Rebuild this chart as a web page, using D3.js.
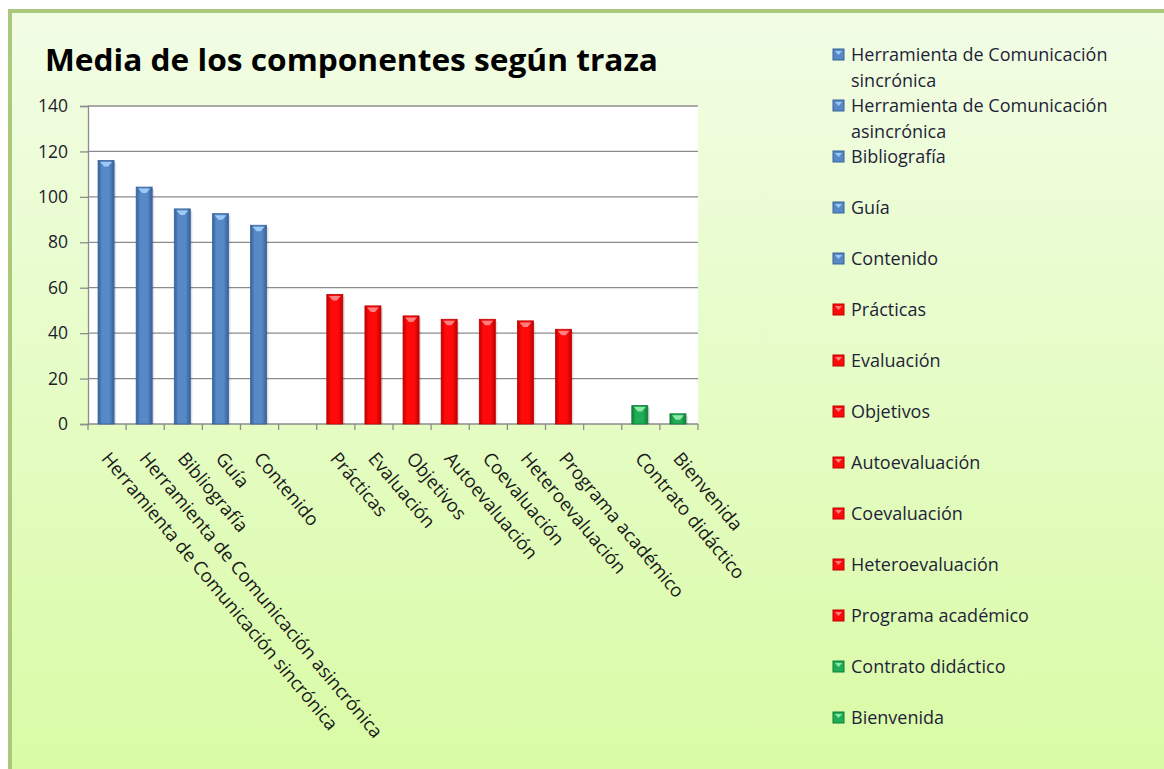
<!DOCTYPE html>
<html>
<head>
<meta charset="utf-8">
<script src="https://cdn.jsdelivr.net/npm/d3@7"></script>
<style>
  body { margin: 0; background: #fff; }
  svg { display: block; font-family: "Open Sans", sans-serif; }
</style>
</head>
<body>
<div id="chart"></div>
<script>
/* Media de los componentes según traza - barras por componente */

// categorias del eje x ("" = hueco entre grupos)
const categories = [
    "Herramienta de Comunicación sincrónica",
    "Herramienta de Comunicación asincrónica",
    "Bibliografía", "Guía", "Contenido", "",
    "Prácticas", "Evaluación", "Objetivos", "Autoevaluación",
    "Coevaluación", "Heteroevaluación", "Programa académico", "",
    "Contrato didáctico", "Bienvenida"
];
const values = [116, 104.3, 94.7, 92.6, 87.5, null,
                57, 52, 47.6, 46.1, 46.1, 45.4, 41.7, null,
                8.1, 4.5];
const groups = ["a", "a", "a", "a", "a", null,
                "b", "b", "b", "b", "b", "b", "b", null,
                "c", "c"];
const yTicks = [0, 20, 40, 60, 80, 100, 120, 140];

// leyenda (la primera linea y la segunda si la hay)
const legendItems = [
    ["Herramienta de Comunicación", "sincrónica"],
    ["Herramienta de Comunicación", "asincrónica"],
    ["Bibliografía"], ["Guía"], ["Contenido"],
    ["Prácticas"], ["Evaluación"], ["Objetivos"], ["Autoevaluación"],
    ["Coevaluación"], ["Heteroevaluación"], ["Programa académico"],
    ["Contrato didáctico"], ["Bienvenida"]
];
const legendGroups = ["a", "a", "a", "a", "a", "b", "b", "b", "b", "b", "b", "b", "c", "c"];

const width = 1164,
      height = 769,
      margin = ({ top: 106, right: 466, bottom: 345, left: 88 });

const palette = {
    a: { dark: "#36629a", mid: "#5689c6", light: "#9ccaf5" },
    b: { dark: "#c00000", mid: "#ff0a0a", light: "#ff8080" },
    c: { dark: "#0f7d3a", mid: "#1fae55", light: "#8ee8a8" }
};

let svg = d3.select("#chart")
    .append("svg")
    .attr("width", width)
    .attr("height", height);

let defs = svg.append("defs");

let bg = defs.append("linearGradient")
    .attr("id", "bg")
    .attr("x1", 0).attr("y1", 0).attr("x2", 0).attr("y2", 1);
bg.append("stop").attr("offset", "0%").attr("stop-color", "#f2fde5");
bg.append("stop").attr("offset", "100%").attr("stop-color", "#d8fba3");

// gradiente horizontal para simular el volumen de las barras
for (let k of Object.keys(palette)) {
    let g = defs.append("linearGradient")
        .attr("id", "bar-" + k)
        .attr("x1", 0).attr("y1", 0).attr("x2", 1).attr("y2", 0);
    g.append("stop").attr("offset", "0%").attr("stop-color", palette[k].dark);
    g.append("stop").attr("offset", "25%").attr("stop-color", palette[k].mid);
    g.append("stop").attr("offset", "70%").attr("stop-color", palette[k].mid);
    g.append("stop").attr("offset", "100%").attr("stop-color", palette[k].dark);
}

// fondo y borde del grafico
svg.append("rect")
    .attr("x", 10).attr("y", 11)
    .attr("width", width + 20).attr("height", height + 20)
    .attr("fill", "url(#bg)")
    .attr("stroke", "#aac97c")
    .attr("stroke-width", 4);

svg.append("text")
    .attr("x", 45)
    .attr("y", 71)
    .attr("font-size", 31)
    .attr("font-weight", "bold")
    .attr("fill", "#000")
    .attr("textLength", 613)
    .attr("lengthAdjust", "spacingAndGlyphs")
    .text("Media de los componentes según traza");

let x = d3.scaleBand()
    .domain(d3.range(categories.length))
    .range([margin.left, width - margin.right])
    .padding(0);

let y = d3.scaleLinear()
    .domain([0, 140])
    .range([height - margin.bottom, margin.top]);

// area de trazado
svg.append("rect")
    .attr("x", margin.left)
    .attr("y", margin.top)
    .attr("width", width - margin.right - margin.left)
    .attr("height", y(0) - margin.top)
    .attr("fill", "#fff");

// lineas de division
svg.append("g")
    .selectAll("line")
    .data(yTicks.slice(1))
    .join("line")
    .attr("x1", margin.left)
    .attr("x2", width - margin.right)
    .attr("y1", d => y(d))
    .attr("y2", d => y(d))
    .attr("stroke", "#8c8c8c")
    .attr("stroke-width", 1.3);

let yAxis = svg.append("g")
    .attr("transform", `translate(${margin.left},0)`)
    .call(d3.axisLeft(y).tickValues(yTicks).tickSize(8).tickPadding(12));
yAxis.select(".domain").attr("stroke", "#8c8c8c").attr("stroke-width", 1.3);
yAxis.selectAll(".tick line").attr("stroke", "#8c8c8c").attr("stroke-width", 1.3);
yAxis.selectAll(".tick text")
    .attr("font-size", 17.5)
    .attr("font-family", "Open Sans, sans-serif")
    .attr("fill", "#1c1c2c");

// eje x con marcas entre categorias
let xAxis = svg.append("g");
xAxis.append("line")
    .attr("x1", margin.left)
    .attr("x2", width - margin.right)
    .attr("y1", y(0))
    .attr("y2", y(0))
    .attr("stroke", "#8c8c8c")
    .attr("stroke-width", 1.3);
xAxis.selectAll(".xtick")
    .data(d3.range(categories.length + 1))
    .join("line")
    .attr("class", "xtick")
    .attr("x1", i => margin.left + i * x.step())
    .attr("x2", i => margin.left + i * x.step())
    .attr("y1", y(0))
    .attr("y2", y(0) + 6)
    .attr("stroke", "#8c8c8c")
    .attr("stroke-width", 1.3);

let data = categories.map((c, i) => ({ i: i, name: c, value: values[i], group: groups[i] }))
    .filter(d => d.value != null);

const barW = x.bandwidth() * 0.42;

let bar = svg.selectAll(".bar")
    .data(data)
    .join("g")
    .attr("class", "bar");

bar.append("rect")
    .attr("x", d => x(d.i) + x.bandwidth() / 2 - barW / 2 - 1 + 2)
    .attr("y", d => y(d.value) + 2)
    .attr("width", barW)
    .attr("height", d => y(0) - y(d.value) - 2)
    .attr("fill", "#000")
    .attr("opacity", 0.12);

bar.append("rect")
    .attr("x", d => x(d.i) + x.bandwidth() / 2 - barW / 2 - 1)
    .attr("y", d => y(d.value))
    .attr("width", barW)
    .attr("height", d => y(0) - y(d.value))
    .attr("fill", d => `url(#bar-${d.group})`)
    .attr("stroke", d => palette[d.group].dark)
    .attr("stroke-width", 0.8);

// pequeño bisel claro en la parte superior
bar.append("path")
    .attr("d", d => {
        let x0 = x(d.i) + x.bandwidth() / 2 - barW / 2 - 1,
            x1 = x0 + barW,
            t = y(d.value);
        return `M${x0 + 2},${t + 1.5}L${x1 - 2},${t + 1.5}L${x1 - 6},${t + 6}L${x0 + 6},${t + 6}Z`;
    })
    .attr("fill", d => palette[d.group].light);

// etiquetas giradas
svg.append("g")
    .selectAll("text")
    .data(data)
    .join("text")
    .attr("transform", d => `translate(${x(d.i) + x.bandwidth() / 2 + 4},${y(0) + 26}) rotate(50)`)
    .attr("dy", "0.75em")
    .attr("font-size", 18.5)
    .attr("fill", "#1a1a1a")
    .text(d => d.name);

// leyenda
let legend = svg.append("g")
    .attr("transform", "translate(833,55)");

let item = legend.selectAll("g")
    .data(legendItems)
    .join("g")
    .attr("transform", (d, i) => `translate(0,${i * 51.0})`);

item.append("rect")
    .attr("x", 0)
    .attr("y", -6)
    .attr("width", 11)
    .attr("height", 11)
    .attr("fill", (d, i) => palette[legendGroups[i]].mid)
    .attr("stroke", (d, i) => palette[legendGroups[i]].dark)
    .attr("stroke-width", 1);

item.append("path")
    .attr("d", "M2,-4L9,-4L5.5,0Z")
    .attr("fill", (d, i) => palette[legendGroups[i]].light);

item.append("text")
    .attr("x", 18)
    .attr("font-size", 18)
    .attr("fill", "#1f1f3a")
    .selectAll("tspan")
    .data(d => d)
    .join("tspan")
    .attr("x", 18)
    .attr("dy", (d, j) => j === 0 ? "0.35em" : 26)
    .text(d => d);
</script>
</body>
</html>
